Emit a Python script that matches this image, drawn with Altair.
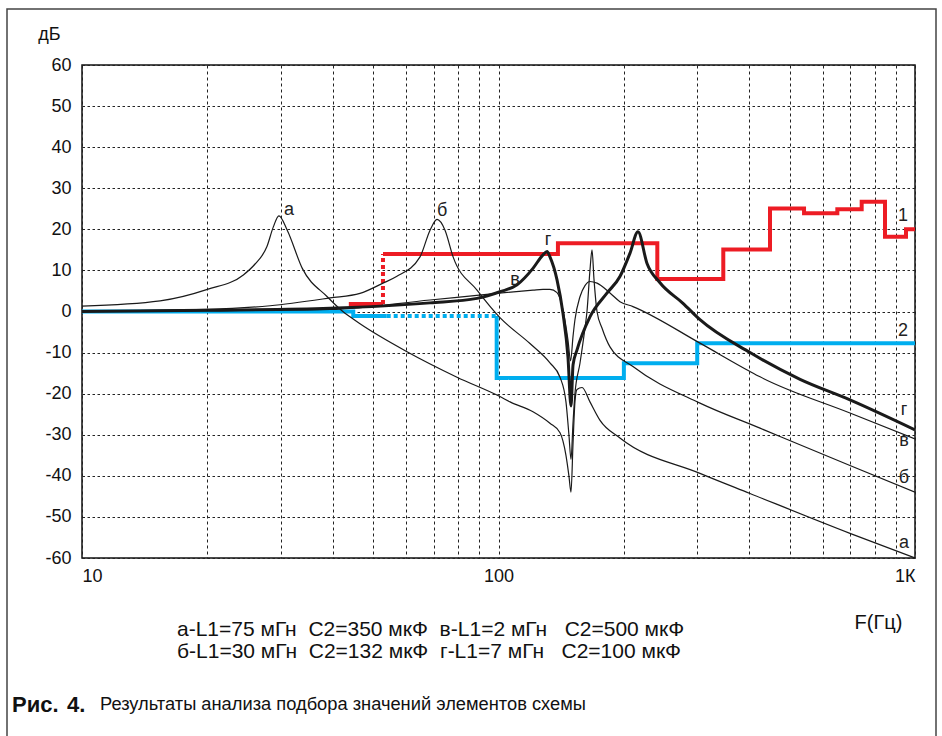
import altair as alt
import pandas as pd

# ---------------- data ----------------
# curve а: L1=75 мГн, C2=350 мкФ
freq_a = [10, 15.4, 20, 24.4, 26.0, 27.8, 28.8, 29.7, 31.1, 33.8, 38.8, 42.3, 44.0, 46.5,
          60.3, 79.5, 100.8, 106.6, 121.0, 132.9, 140.5, 145.2, 147.6, 149.3, 151.0,
          152.6, 154.3, 158.7, 165.8, 175.3, 195.7, 304.6, 401.7, 698, 1000]
db_a = [1.3, 2.6, 5.4, 8.9, 11.5, 15.8, 20.6, 23.3, 19.8, 10.5, 3.6, 0, -1.3, -3,
        -9.8, -16, -20.7, -22, -24.4, -27.2, -29.5, -35, -40, -44, -32,
        -22, -19, -18.5, -22, -26.5, -30.8, -39.4, -44.3, -54, -60]

# curve б: L1=30 мГн, C2=132 мкФ
freq_b = [10, 20, 28.3, 39.4, 46.5, 52.8, 56.9, 64.8, 68.5, 71.2, 74.4, 77.8, 88.8,
          100.8, 119.0, 132.9, 140.5, 145.2, 147.6, 149.3, 151.0, 152.6, 156.9,
          161.3, 163.1, 165.8, 167.7, 169.5, 172.4, 177.2, 185.2, 210.3, 304.6,
          424.6, 698, 1000]
db_b = [0.1, 0.5, 1.4, 3.3, 4.4, 6.9, 8.5, 13.3, 19.8, 22.4, 19.8, 13.3, 5.2,
        -1.5, -7.8, -12.5, -16, -22, -30, -36, -27, -20, -12.6,
        -4, 0, 10, 15, 8, 0, -4, -8.6, -13.4, -22.3,
        -28.4, -37.5, -44]

# curve в: L1=2 мГн, C2=500 мкФ
freq_v = [10, 20, 39.4, 68.5, 98.9, 121.0, 127.9, 132.9, 138.2, 142.8, 146.8, 149.0,
          151.0, 152.6, 156.9, 161.3, 165.8, 172.4, 185.2, 195.7, 210.3, 304.6,
          401.7, 424.6, 698, 1000]
db_v = [0, 0.2, 0.5, 2.8, 4.4, 5.2, 5.4, 5.4, 4.6, 0.4, -6.9, -12,
        -6, -2, 3.6, 6.3, 7.3, 6.9, 4.5, 2.4, 1.2, -7.7,
        -14.6, -15.9, -24.7, -31]

# curve г: L1=7 мГн, C2=100 мкФ
freq_g = [10, 20, 39.4, 68.5, 88.8, 100.8, 110.8, 121.0, 127.9, 130.8, 132.9, 138.2,
          142.8, 146.8, 149.3, 151.0, 154.3, 165.8, 181.9, 195.7, 206.9, 216.2,
          227.3, 244.2, 277.3, 304.6, 401.7, 529.7, 698, 1000]
db_g = [0, 0.3, 0.8, 2.1, 3.2, 4.8, 6.5, 10.5, 13.8, 14.6, 13.3, 7.7,
        -0.4, -11, -23, -13, -9.4, -1.3, 4.4, 8.5, 14.2, 19.4,
        11.7, 7, 2, -2, -10, -16.5, -21.5, -28.8]

# limit line 1 (red): step edges (Hz) and levels (dB)
red_start = 0.8
red_edges = [44.2, 52.8, 138.9, 240.6, 346.5, 448.6, 541.5, 650.9, 744.7, 847.2, 951.5, 1000]
red_levels = [1.8, 14, 16.6, 7.9, 15.1, 25.1, 23.9, 24.9, 26.7, 18.2, 20]
red_dotted_risers = [52.8]

# limit line 2 (blue)
blue_edges = [10, 44.8, 53.9, 99, 200, 300, 1000]
blue_levels = [0, -1.1, -1.1, -16.2, -12.6, -7.7]
blue_dotted_runs = [53.9]   # horizontal run starting at this edge is dotted

# curve labels
lab_text = ["а", "б", "г", "в", "1", "2", "г", "в", "б", "а"]
lab_freq = [31.4, 73.2, 131.5, 109.5, 936, 936, 941, 941, 941, 941]
lab_db = [24.7, 24.5, 17.4, 7.7, 23.2, -4.7, -24, -31.5, -40.5, -56.4]

x_grid = [10, 20, 30, 40, 50, 60, 70, 80, 90, 100, 200, 300, 400, 500, 600, 700, 800, 900, 1000]
y_ticks = list(range(-60, 61, 10))

NB = "\u00a0"
legend_lines = ["а-L1=75 мГн" + NB * 2 + "С2=350 мкФ" + NB * 2 + "в-L1=2 мГн" + NB * 3 + "С2=500 мкФ",
                "б-L1=30 мГн" + NB * 2 + "С2=132 мкФ" + NB * 2 + "г-L1=7 мГн" + NB * 3 + "С2=100 мкФ"]
caption_bold = ["Рис.", "4."]
caption_text = "Результаты анализа подбора значений элементов схемы"

FONT = "Liberation Sans"

# ---------------- build tables ----------------
rows = []
for name, fr, db in [("а", freq_a, db_a), ("б", freq_b, db_b), ("в", freq_v, db_v), ("г", freq_g, db_g)]:
    for i, (f, d) in enumerate(zip(fr, db)):
        rows.append({"curve": name, "freq": f, "db": d, "order": i})
curves = pd.DataFrame(rows)


def step_table(name, edges, levels, start=None, dotted_risers=(), dotted_runs=()):
    pieces = []
    if start is not None:
        pieces.append(((edges[0], start), (edges[0], levels[0]), "solid"))
    for i, lev in enumerate(levels):
        st = "dotted" if edges[i] in dotted_runs else "solid"
        pieces.append(((edges[i], lev), (edges[i + 1], lev), st))
        if i + 1 < len(levels) and levels[i + 1] != lev:
            st2 = "dotted" if edges[i + 1] in dotted_risers else "solid"
            pieces.append(((edges[i + 1], lev), (edges[i + 1], levels[i + 1]), st2))
    out = []
    seg = 0
    prev = None
    k = 0
    for p0, p1, st in pieces:
        if st != prev:
            seg += 1
            k = 0
            out.append({"line": name, "seg": f"{name}{seg}", "style": st, "freq": p0[0], "db": p0[1], "order": k})
            k += 1
        out.append({"line": name, "seg": f"{name}{seg}", "style": st, "freq": p1[0], "db": p1[1], "order": k})
        k += 1
        prev = st
    return pd.DataFrame(out)


red = step_table("1", red_edges, red_levels, start=red_start, dotted_risers=red_dotted_risers)
blue = step_table("2", blue_edges, blue_levels, dotted_runs=blue_dotted_runs)
labels = pd.DataFrame({"t": lab_text, "freq": lab_freq, "db": lab_db})

xsc = alt.Scale(type="log", domain=[10, 1000], nice=False)
ysc = alt.Scale(domain=[-60, 60], nice=False)

x_enc = alt.X("freq:Q", scale=xsc, axis=alt.Axis(
    values=x_grid, grid=True, ticks=False, domain=False,
    labelExpr="datum.value == 10 ? '10' : datum.value == 100 ? '100' : datum.value == 1000 ? '1К' : ''",
    labelFlush=True, labelOverlap=False, labelFontSize=18, labelFont=FONT, labelColor="#111",
    labelPadding=9, gridDash=[3, 3], gridColor="#222", gridWidth=1,
    title="F(Гц)", titleFont=FONT, titleFontSize=20, titleFontWeight="normal", titleColor="#111",
    titleX=796, titleY=64, titleAlign="center", titleBaseline="middle"))
y_enc = alt.Y("db:Q", scale=ysc, axis=alt.Axis(
    values=y_ticks, grid=True, ticks=False, domain=False,
    labelExpr="'' + datum.value", labelFontSize=18, labelFont=FONT, labelColor="#111",
    labelPadding=11, gridDash=[2.5, 2.5], gridColor="#222", gridWidth=1,
    title="дБ", titleFont=FONT, titleFontSize=18, titleFontWeight="normal", titleColor="#111",
    titleAngle=0, titleX=-33, titleY=-31, titleAlign="center", titleBaseline="middle"))

dash_scale = alt.Scale(domain=["solid", "dotted"], range=[[1, 0], [4, 3]])

base_red = alt.Chart(red).mark_line(color="#ED1C24", strokeWidth=4, clip=True).encode(
    x=x_enc, y=y_enc, detail="seg:N", order="order:Q",
    strokeDash=alt.StrokeDash("style:N", scale=dash_scale, legend=None))
base_blue = alt.Chart(blue).mark_line(color="#00AEEF", strokeWidth=4, clip=True).encode(
    x="freq:Q", y="db:Q", detail="seg:N", order="order:Q",
    strokeDash=alt.StrokeDash("style:N", scale=dash_scale, legend=None))

thin = alt.Chart(curves).transform_filter("datum.curve != 'г'").mark_line(
    color="#1a1a1a", strokeWidth=1.2, clip=True, interpolate="monotone").encode(
    x="freq:Q", y="db:Q", detail="curve:N", order="order:Q")
thick = alt.Chart(curves).transform_filter("datum.curve == 'г'").mark_line(
    color="#1a1a1a", strokeWidth=3, clip=True, interpolate="monotone").encode(
    x="freq:Q", y="db:Q", order="order:Q")

lab = alt.Chart(labels).mark_text(font=FONT, fontSize=18, color="#222", align="center", baseline="middle").encode(
    x="freq:Q", y="db:Q", text="t:N")

frame = alt.Chart(pd.DataFrame({"k": [0]})).mark_rect(fill=None, stroke="#444", strokeWidth=1.5, clip=False).encode(
    x=alt.value(-75), x2=alt.value(854), y=alt.value(-56), y2=alt.value(700))

leg1 = alt.Chart(pd.DataFrame({"t": [legend_lines[0]]})).mark_text(
    font=FONT, fontSize=21, align="left", baseline="middle", color="#111").encode(
    x=alt.value(95), y=alt.value(565), text="t:N")
leg2 = alt.Chart(pd.DataFrame({"t": [legend_lines[1]]})).mark_text(
    font=FONT, fontSize=21, align="left", baseline="middle", color="#111").encode(
    x=alt.value(95), y=alt.value(587), text="t:N")
cap1 = alt.Chart(pd.DataFrame({"t": [caption_bold[0]]})).mark_text(
    font=FONT, fontSize=22, fontWeight="bold", align="left", baseline="middle", color="#111").encode(
    x=alt.value(-70), y=alt.value(640), text="t:N")
cap1b = alt.Chart(pd.DataFrame({"t": [caption_bold[1]]})).mark_text(
    font=FONT, fontSize=22, fontWeight="bold", align="left", baseline="middle", color="#111").encode(
    x=alt.value(-15), y=alt.value(640), text="t:N")
cap2 = alt.Chart(pd.DataFrame({"t": [caption_text]})).mark_text(
    font=FONT, fontSize=18.3, align="left", baseline="middle", color="#111").encode(
    x=alt.value(18), y=alt.value(640), text="t:N")

chart = alt.layer(frame, base_red, base_blue, thin, thick, lab, leg1, leg2, cap1, cap1b, cap2).properties(
    width=833, height=493,
    padding={"left": 82, "top": 65, "right": 27, "bottom": 178},
    autosize=alt.AutoSizeParams(type="none"),
    background="white",
).configure_view(stroke="#111", strokeWidth=1.5)

chart.save("out.html", embed_options={"renderer": "svg", "actions": False})
